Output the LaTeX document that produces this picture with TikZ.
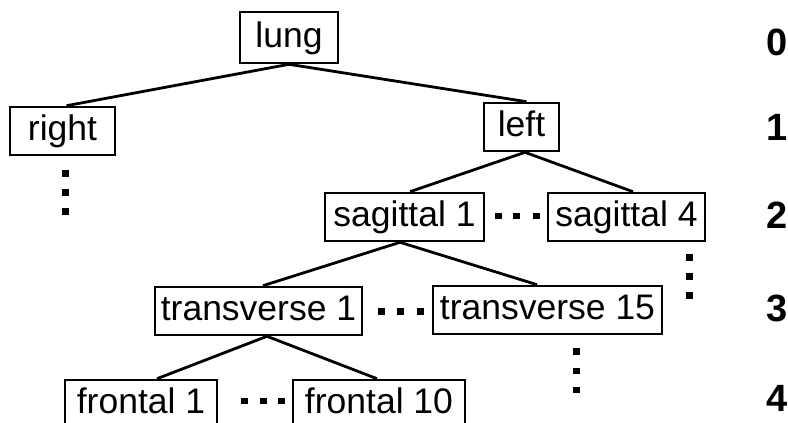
\documentclass[tikz,border=0pt]{standalone}
\usepackage{fontspec}
\setmainfont{Liberation Sans}
\newfontfamily\levelfamily{Liberation Sans Bold}
\begin{document}
\begin{tikzpicture}[x=1pt,y=-1pt,
  lbl/.style={draw, line width=2.6pt, font=\fontsize{35.5pt}{40pt}\selectfont,
    inner xsep=0pt, inner ysep=7.5pt, text height=26pt, text depth=7pt},
  link/.style={line width=2.8pt},
  sq/.style={fill, inner sep=0pt, minimum width=7pt, minimum height=6.5pt},
  levnum/.style={inner sep=0pt, font=\levelfamily\fontsize{38pt}{42pt}\selectfont}]
\useasboundingbox (0,0) rectangle (788,423);
\clip (0,0) rectangle (788,423);

% tree nodes
\node[lbl, minimum width=98pt, minimum height=51pt] (lung) at (289,37.5) {lung};
\node[lbl, minimum width=105pt] (right) at (62.5,131) {right};
\node[lbl, minimum width=75pt]  (left)  at (521.5,127) {left};
\node[lbl, minimum width=159pt] (s1)  at (404.5,217) {sagittal 1};
\node[lbl, minimum width=157pt] (s4)  at (626.5,217) {sagittal 4};
\node[lbl, minimum width=207pt] (t1)  at (258.5,311) {transverse 1};
\node[lbl, minimum width=229pt] (t15) at (547.5,310) {transverse 15};
\node[lbl, minimum width=152pt] (f1)  at (141,404) {frontal 1};
\node[lbl, minimum width=172pt] (f10) at (379,404) {frontal 10};

% connectors
\draw[link] (lung.south) -- ([xshift=4pt]right.north);
\draw[link] (lung.south) -- ([xshift=5pt]left.north);
\draw[link] ([xshift=3.5pt]left.south) -- ([xshift=5.5pt]s1.north);
\draw[link] ([xshift=3.5pt]left.south) -- ([xshift=6.5pt]s4.north);
\draw[link] ([xshift=-4.5pt]s1.south) -- ([xshift=4.5pt]t1.north);
\draw[link] ([xshift=-4.5pt]s1.south) -- ([xshift=-10.5pt]t15.north);
\draw[link] ([xshift=8.5pt]t1.south) -- ([xshift=16pt]f1.north);
\draw[link] ([xshift=8.5pt]t1.south) -- ([xshift=-2pt]f10.north);

% ellipsis squares
\node[sq] (r1) at (65,173.5) {};
\node[sq] (r2) at (65,192.5) {};
\node[sq] (r3) at (65,211.5) {};
\node[sq] (h1) at (498.5,216) {};
\node[sq] (h2) at (516.5,216) {};
\node[sq] (h3) at (536.5,216) {};
\node[sq] (v1) at (689.5,257.5) {};
\node[sq] (v2) at (689.5,276.5) {};
\node[sq] (v3) at (689.5,295.5) {};
\node[sq] (g1) at (381,311.5) {};
\node[sq] (g2) at (400,311.5) {};
\node[sq] (g3) at (420,311.5) {};
\node[sq] (u1) at (576,351.5) {};
\node[sq] (u2) at (576,371) {};
\node[sq] (u3) at (576,390) {};
\node[sq] (k1) at (244,401) {};
\node[sq] (k2) at (263.5,401) {};
\node[sq] (k3) at (281,401) {};

% level numbers
\node[levnum] (l0) at (777,42) {0};
\node[levnum] (l1) at (777,127) {1};
\node[levnum] (l2) at (777,215) {2};
\node[levnum] (l3) at (777,308) {3};
\node[levnum] (l4) at (777,398) {4};
\end{tikzpicture}
\end{document}
